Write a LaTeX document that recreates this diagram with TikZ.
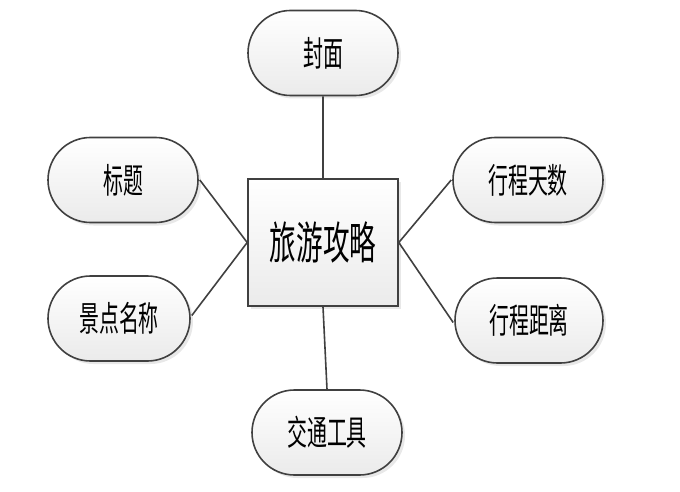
\documentclass[tikz,border=0pt]{standalone}
\usepackage{fontspec}
\setmainfont{Noto Sans CJK SC}
\usetikzlibrary{shapes.misc,shadows}
\newcommand{\smtxt}[1]{\scalebox{0.95}[1.65]{\fontsize{21}{21}\selectfont #1}}
\newcommand{\bigtxt}[1]{\scalebox{0.95}[1.6]{\fontsize{28}{28}\selectfont #1}}
\tikzset{
  pill/.style={rounded rectangle, draw=black!75, line width=1.6pt, minimum width=150pt, minimum height=85pt, inner sep=0pt,
    top color=white, bottom color=black!8, drop shadow={shadow xshift=3pt, shadow yshift=-3pt, fill=black!18}},
  mainbox/.style={rectangle, draw=black!75, line width=1.6pt, minimum width=150pt, minimum height=127pt, inner sep=0pt,
    top color=white, bottom color=black!8, drop shadow={shadow xshift=3pt, shadow yshift=-3pt, fill=black!18}},
  conn/.style={draw=black!75, line width=1.6pt}
}
\begin{document}
\begin{tikzpicture}[x=1pt,y=-1pt]
\useasboundingbox (0,0) rectangle (680,492);
\node[mainbox] (c) at (323,242.5) {\bigtxt{旅游攻略}};
\node[pill] (cover) at (323,53) {\smtxt{封面}};
\node[pill] (title) at (123,180) {\smtxt{标题}};
\node[pill, minimum width=142pt] (spot) at (119,318.5) {\smtxt{景点名称}};
\node[pill] (days) at (528,180) {\smtxt{行程天数}};
\node[pill, minimum width=148pt] (dist) at (529,320.5) {\smtxt{行程距离}};
\node[pill] (trans) at (327,432.5) {\smtxt{交通工具}};
\draw[conn] (cover) -- (c);
\draw[conn] (c.south) -- (trans.north);
\draw[conn] (c.west) -- ([xshift=1pt]title.east);
\draw[conn] (c.west) -- ([xshift=1pt,yshift=3pt]spot.east);
\draw[conn] (c.east) -- ([xshift=-1pt]days.west);
\draw[conn] (c.east) -- ([xshift=-1pt,yshift=-2pt]dist.west);
\end{tikzpicture}
\end{document}
